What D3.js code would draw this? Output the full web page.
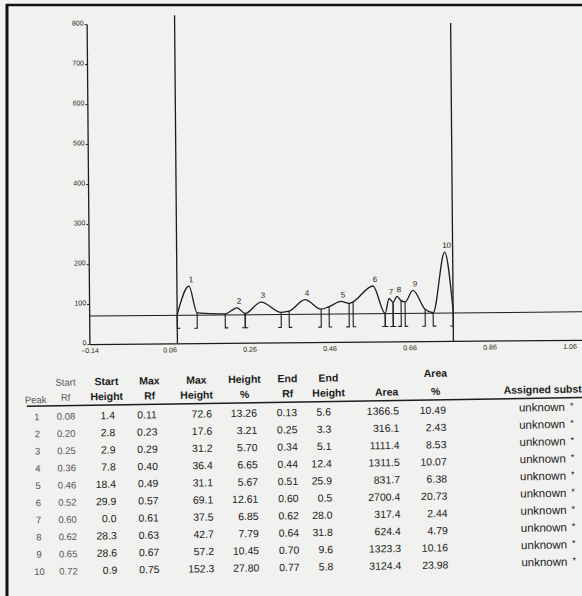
<!DOCTYPE html>
<html>
<head>
<meta charset="utf-8">
<script src="https://cdn.jsdelivr.net/npm/d3@7"></script>
<style>
  html, body { margin: 0; padding: 0; background: #f1f1ef; }
  svg { display: block; }
</style>
</head>
<body>
<svg id="chart" width="582" height="596"></svg>
<script>
// peak table
const peakNo      = [1, 2, 3, 4, 5, 6, 7, 8, 9, 10]
const startRf     = [0.08, 0.20, 0.25, 0.36, 0.46, 0.52, 0.60, 0.62, 0.65, 0.72]
const startHeight = [1.4, 2.8, 2.9, 7.8, 18.4, 29.9, 0.0, 28.3, 28.6, 0.9]
const maxRf       = [0.11, 0.23, 0.29, 0.40, 0.49, 0.57, 0.61, 0.63, 0.67, 0.75]
const maxHeight   = [72.6, 17.6, 31.2, 36.4, 31.1, 69.1, 37.5, 42.7, 57.2, 152.3]
const heightPct   = [13.26, 3.21, 5.70, 6.65, 5.67, 12.61, 6.85, 7.79, 10.45, 27.80]
const endRf       = [0.13, 0.25, 0.34, 0.44, 0.51, 0.60, 0.62, 0.64, 0.70, 0.77]
const endHeight   = [5.6, 3.3, 5.1, 12.4, 25.9, 0.5, 28.0, 31.8, 9.6, 5.8]
const area        = [1366.5, 316.1, 1111.4, 1311.5, 831.7, 2700.4, 317.4, 624.4, 1323.3, 3124.4]
const areaPct     = [10.49, 2.43, 8.53, 10.07, 6.38, 20.73, 2.44, 4.79, 10.16, 23.98]
const substance   = ["unknown", "unknown", "unknown", "unknown", "unknown",
                     "unknown", "unknown", "unknown", "unknown", "unknown"]

// axes
const yTicks = [0, 100, 200, 300, 400, 500, 600, 700, 800]
const xTicks = [-0.14, 0.06, 0.26, 0.46, 0.66, 0.86, 1.06]
const baselineLevel = 70          // horizontal baseline of the scan
const trackLimits = [0.08, 0.77]  // vertical lines (integration window)

const INK = "#1c1c1c"
const FONT = "'Liberation Sans', Arial, sans-serif"

const svg = d3.select("#chart")

// paper frame (black edge of the photo)
svg.append("line").attr("x1", 6).attr("y1", 5).attr("x2", 582).attr("y2", 5)
  .attr("stroke", "#111").attr("stroke-width", 2.5)
svg.append("line").attr("x1", 7).attr("y1", 4).attr("x2", 7).attr("y2", 596)
  .attr("stroke", "#111").attr("stroke-width", 3)

// ---------- densitogram ----------
const plot = svg.append("g").attr("transform", "rotate(-0.5 330 180)")

const x = d3.scaleLinear().domain([-0.14, 1.16]).range([88, 608])
const y = d3.scaleLinear().domain([0, 800]).range([342, 22])

const yAxis = d3.axisLeft(y).tickValues(yTicks).tickSize(2).tickSizeOuter(0).tickPadding(1)
plot.append("g")
  .attr("transform", `translate(${x(-0.14)},0)`)
  .call(yAxis)
  .call(g => g.select(".domain").attr("stroke", INK).attr("stroke-width", 1.3))
  .call(g => g.selectAll(".tick line").attr("stroke", INK))
  .call(g => g.selectAll(".tick text")
    .attr("fill", INK).attr("font-size", "7px").attr("font-family", FONT)
    .attr("dy", "0.1em"))

const xAxis = d3.axisBottom(x).tickValues(xTicks).tickSize(0).tickSizeOuter(0).tickPadding(4)
  .tickFormat(d3.format(".2f"))
plot.append("g")
  .attr("transform", `translate(0,${y(0)})`)
  .call(xAxis)
  .call(g => g.select(".domain").attr("stroke", INK).attr("stroke-width", 1.3))
  .call(g => g.selectAll(".tick text")
    .attr("fill", INK).attr("font-size", "7px").attr("font-family", FONT))

// integration window
plot.selectAll(".limit")
  .data(trackLimits)
  .enter().append("line")
  .attr("class", "limit")
  .attr("x1", d => x(d)).attr("x2", d => x(d))
  .attr("y1", (d, i) => i === 0 ? 14 : 24)
  .attr("y2", y(0))
  .attr("stroke", INK).attr("stroke-width", 1.3)

// baseline
plot.append("line")
  .attr("x1", x(-0.14)).attr("x2", 600)
  .attr("y1", y(baselineLevel)).attr("y2", y(baselineLevel))
  .attr("stroke", INK).attr("stroke-width", 1)

// trace through start / max / end of every peak (shared Rf merged)
let pts = []
peakNo.forEach((p, i) => {
  pts.push([startRf[i], startHeight[i]])
  pts.push([maxRf[i], maxHeight[i]])
  pts.push([endRf[i], endHeight[i]])
})
const trace = []
pts.forEach(pt => {
  const last = trace[trace.length - 1]
  if (last && Math.abs(last[0] - pt[0]) < 1e-9) last[1] = (last[1] + pt[1]) / 2
  else trace.push([pt[0], pt[1]])
})

const line = d3.line()
  .x(d => x(d[0]))
  .y(d => y(baselineLevel + d[1]))
  .curve(d3.curveMonotoneX)

plot.append("path")
  .datum(trace)
  .attr("d", line)
  .attr("fill", "none")
  .attr("stroke", INK)
  .attr("stroke-width", 1.3)

// start / end brackets under the baseline
const markBottom = 327
const foot = 3
peakNo.forEach((p, i) => {
  [[startRf[i], startHeight[i], 1], [endRf[i], endHeight[i], -1]].forEach(([rf, h, dir]) => {
    const px = x(rf)
    plot.append("path")
      .attr("d", `M${px},${y(baselineLevel + h)}V${markBottom}h${dir * foot}`)
      .attr("fill", "none")
      .attr("stroke", INK)
      .attr("stroke-width", 1.1)
  })
})

// peak numbers
plot.selectAll(".peak-label")
  .data(peakNo)
  .enter().append("text")
  .attr("class", "peak-label")
  .attr("x", (d, i) => x(maxRf[i]) + 2)
  .attr("y", (d, i) => y(baselineLevel + maxHeight[i]) - 4)
  .attr("text-anchor", "middle")
  .attr("font-size", "8px")
  .attr("font-family", FONT)
  .attr("fill", INK)
  .text(d => d)

// ---------- peak table ----------
const table = svg.append("g").attr("transform", "rotate(-0.9 300 480)")

const cols = [
  {h1: "",      h2: "Peak",   x: 38,  anchor: "middle", vals: peakNo,      fmt: d => d,        light: true},
  {h1: "Start", h2: "Rf",     x: 67,  anchor: "middle", vals: startRf,     fmt: d3.format(".2f"), light: true},
  {h1: "Start", h2: "Height", x: 116, anchor: "end",    vals: startHeight, fmt: d3.format(".1f")},
  {h1: "Max",   h2: "Rf",     x: 148, anchor: "middle", vals: maxRf,       fmt: d3.format(".2f")},
  {h1: "Max",   h2: "Height", x: 213, anchor: "end",    vals: maxHeight,   fmt: d3.format(".1f")},
  {h1: "Height",h2: "%",      x: 258, anchor: "end",    vals: heightPct,   fmt: d3.format(".2f")},
  {h1: "End",   h2: "Rf",     x: 288, anchor: "middle", vals: endRf,       fmt: d3.format(".2f")},
  {h1: "End",   h2: "Height", x: 332, anchor: "end",    vals: endHeight,   fmt: d3.format(".1f")},
  {h1: "",      h2: "Area",   x: 400, anchor: "end",    vals: area,        fmt: d3.format(".1f")},
  {h1: "Area",  h2: "%",      x: 447, anchor: "end",    vals: areaPct,     fmt: d3.format(".2f")}
]
// header centres (for right aligned columns the header sits over the numbers)
const headX = [37, 67, 108, 151, 198, 246, 289, 330, 388, 437]

const head1 = 382, head2 = 397, ruleY = 402, row0 = 416, rowStep = 17.2

cols.forEach((c, j) => {
  const w = c.light ? "normal" : "bold"
  const col = c.light ? "#555" : INK
  if (c.h1) table.append("text")
    .attr("x", headX[j]).attr("y", j === 9 ? head1 - 3 : head1)
    .attr("text-anchor", "middle").attr("font-family", FONT)
    .attr("font-size", c.light ? "9.5px" : "10.5px").attr("font-weight", w).attr("fill", col)
    .text(c.h1)
  table.append("text")
    .attr("x", headX[j]).attr("y", j === 0 ? head2 + 2 : head2)
    .attr("text-anchor", "middle").attr("font-family", FONT)
    .attr("font-size", c.light ? "9.5px" : "10.5px").attr("font-weight", w).attr("fill", col)
    .text(c.h2)

  table.selectAll(null)
    .data(c.vals)
    .enter().append("text")
    .attr("x", c.x)
    .attr("y", (d, i) => row0 + i * rowStep)
    .attr("text-anchor", c.anchor)
    .attr("font-family", FONT)
    .attr("font-size", c.light ? "9.5px" : "10.5px")
    .attr("fill", col)
    .text(c.fmt)
})

table.append("text")
  .attr("x", 505).attr("y", head2)
  .attr("font-family", FONT).attr("font-size", "10.5px").attr("font-weight", "bold")
  .attr("fill", INK)
  .text("Assigned substance")

table.append("line")
  .attr("x1", 28).attr("x2", 600).attr("y1", ruleY).attr("y2", ruleY)
  .attr("stroke", INK).attr("stroke-width", 1.4)

table.selectAll(".subst")
  .data(substance)
  .enter().append("text")
  .attr("class", "subst")
  .attr("x", 520)
  .attr("y", (d, i) => row0 + i * rowStep - 1)
  .attr("font-family", FONT).attr("font-size", "11.5px").attr("fill", INK)
  .text(d => d)
  .append("tspan").attr("dx", 5).attr("dy", -2).attr("font-size", "9px").text("*")
</script>
</body>
</html>
